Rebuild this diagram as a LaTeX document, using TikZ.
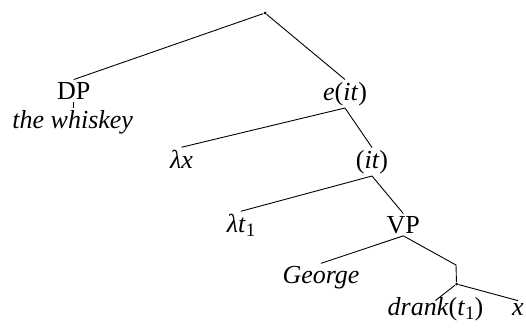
\documentclass[tikz,border=0pt]{standalone}
\usepackage{fontspec}
\setmainfont{Liberation Serif}
\newcommand{\subone}{\raisebox{-0.35ex}{\fontsize{19}{19}\selectfont 1}}
\begin{document}
\begin{tikzpicture}[x=1pt,y=-1pt,line width=0.9pt,
  lab/.style={anchor=base,inner sep=2pt,font=\fontsize{26}{31}\selectfont},
  dotn/.style={circle,fill,inner sep=0pt,minimum size=3pt}]
\useasboundingbox (0,0) rectangle (526,327);
\node[dotn] (root) at (265,13) {};
\node[lab] (dp) at (73.7,99) {DP};
\node[lab] (wh) at (72.7,128) {\itshape the whiskey};
\node[lab] (eit) at (345,100) {\textit{e}(\textit{it})};
\node[lab] (lx) at (181.5,168) {\itshape λx};
\node[lab] (it) at (372,168) {(\textit{it})};
\node[lab] (lt) at (241,232) {\textit{λt}\subone};
\node[lab] (vp) at (403.3,233) {VP};
\node[lab] (george) at (321,283) {\itshape George};
\coordinate (j) at (456,265);
\node[dotn] (d2) at (456.5,284) {};
\node[lab] (drank) at (435.5,315) {\textit{drank}(\textit{t}\subone)};
\node[lab] (x) at (518,315) {\itshape x};
\draw (root) -- (dp.north);
\draw (root) -- (eit.north);
\draw (dp.south) -- (dp.south |- wh.north);
\draw (eit.south) -- (lx.north);
\draw (eit.south) -- (it.north);
\draw (it.south) -- (lt.north);
\draw (it.south) -- (vp.north);
\draw (vp.south) -- (george.north);
\draw (vp.south) -- (j) -- (d2);
\draw (d2) -- ([yshift=-6pt]drank.north);
\draw (d2) -- (x.north);
\end{tikzpicture}
\end{document}
